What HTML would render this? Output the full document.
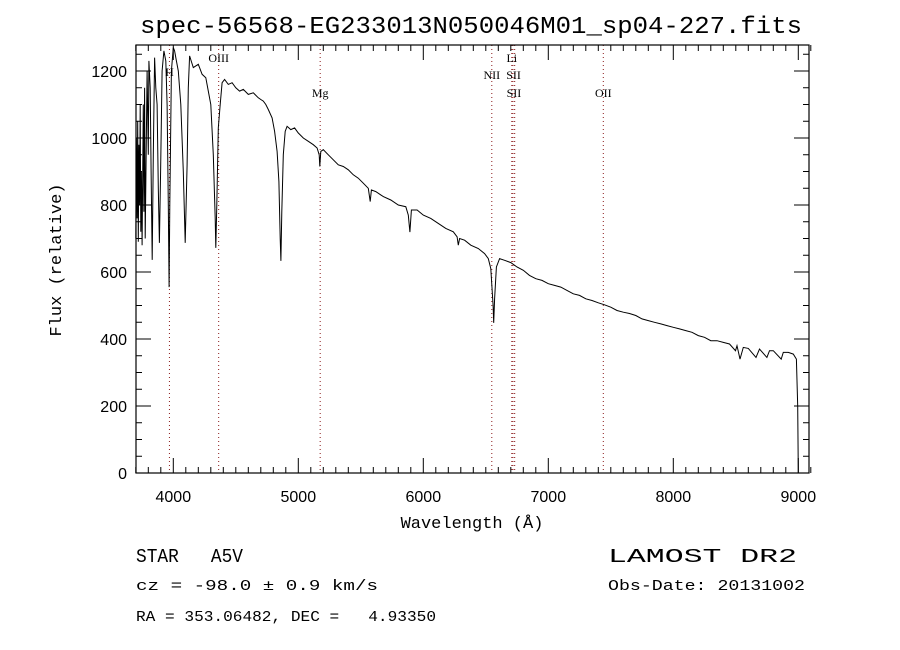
<!DOCTYPE html>
<html><head><meta charset="utf-8"><style>
html,body{margin:0;padding:0;background:#fff;}
svg{display:block;}
text{fill:#000;}
</style></head><body>
<svg id="chart" width="900" height="650" xmlns="http://www.w3.org/2000/svg">
<rect width="900" height="650" fill="#fff"/>
<text x="140" y="33" font-family="Liberation Mono, monospace" font-size="24" textLength="662" lengthAdjust="spacingAndGlyphs">spec-56568-EG233013N050046M01_sp04-227.fits</text>
<g id="lines"></g>
<g id="ticks"></g>
<path id="spec" fill="none" stroke="#000" stroke-width="1"/>
<rect x="136" y="45" width="673" height="428" fill="none" stroke="#000" stroke-width="1.2"/>
<text transform="translate(61,260) rotate(-90)" text-anchor="middle" font-family="Liberation Mono, monospace" font-size="17">Flux (relative)</text>
<text x="472" y="528" text-anchor="middle" font-family="Liberation Mono, monospace" font-size="17">Wavelength (Å)</text>
<text x="136" y="562" font-family="Liberation Mono, monospace" font-size="19" xml:space="preserve" textLength="107" lengthAdjust="spacingAndGlyphs">STAR   A5V</text>
<text x="608" y="562" font-family="Liberation Mono, monospace" font-size="19" textLength="189" lengthAdjust="spacingAndGlyphs">LAMOST DR2</text>
<text x="136" y="590" font-family="Liberation Mono, monospace" font-size="15" textLength="242" lengthAdjust="spacingAndGlyphs">cz = -98.0 ± 0.9 km/s</text>
<text x="608" y="590" font-family="Liberation Mono, monospace" font-size="15" textLength="197" lengthAdjust="spacingAndGlyphs">Obs-Date: 20131002</text>
<text x="136" y="621" font-family="Liberation Mono, monospace" font-size="15" xml:space="preserve" textLength="300" lengthAdjust="spacingAndGlyphs">RA = 353.06482, DEC =   4.93350</text>
</svg>
<script>
const wavelengths=[3700,3705,3710,3715,3720,3725,3730,3735,3740,3745,3750,3760,3765,3770,3775,3790,3800,3805,3815,3822,3831,3840,3850,3860,3870,3880,3889,3898,3910,3925,3940,3950,3960,3966,3972,3985,4000,4010,4025,4040,4060,4080,4095,4110,4120,4130,4160,4200,4230,4260,4280,4300,4320,4335,4340,4348,4360,4375,4390,4410,4440,4470,4500,4530,4560,4600,4640,4680,4700,4720,4740,4760,4790,4810,4830,4845,4855,4861,4868,4880,4895,4910,4940,4970,5000,5040,5080,5120,5150,5167,5172,5180,5200,5240,5280,5320,5360,5400,5440,5480,5520,5560,5575,5585,5620,5680,5740,5800,5860,5880,5893,5905,5950,6000,6060,6120,6180,6240,6270,6280,6290,6330,6380,6440,6490,6520,6540,6558,6563,6570,6585,6610,6650,6700,6750,6800,6850,6900,6950,7000,7050,7100,7150,7200,7250,7300,7350,7400,7450,7500,7550,7600,7650,7700,7750,7800,7850,7900,7950,8000,8050,8100,8150,8200,8250,8300,8350,8400,8450,8498,8510,8534,8560,8600,8662,8690,8749,8770,8800,8863,8880,8920,8960,8985,8995,9000];
const fluxes=[700,1000,760,1050,690,980,800,1100,720,900,680,1100,780,1150,700,1200,950,1230,1150,900,636,950,1240,1150,1100,850,687,900,1200,1260,1230,1100,800,555,800,1200,1270,1260,1230,1200,1100,900,687,920,1150,1245,1210,1220,1190,1180,1140,1100,950,760,672,800,1030,1100,1165,1175,1160,1165,1150,1140,1145,1130,1135,1120,1115,1110,1100,1085,1060,1020,960,870,700,633,780,950,1020,1035,1025,1030,1015,1000,990,980,970,950,915,960,965,950,935,920,915,905,890,880,865,850,810,845,840,825,815,800,795,770,719,785,785,770,760,745,730,720,705,680,700,695,680,670,655,640,610,500,448,520,615,640,635,628,615,605,590,580,575,565,560,555,545,535,530,520,515,508,502,495,485,480,476,470,460,455,450,445,440,435,430,425,420,410,405,395,395,390,385,365,380,340,375,372,345,370,345,365,365,340,360,360,355,340,200,0];
const xTicks=[4000,5000,6000,7000,8000,9000];
const yTicks=[0,200,400,600,800,1000,1200];
const lineWaves=[3969,4363,5175,6548,6708,6717,6731,7440];
const lineLabels=[["H",3969,76],["OIII",4363,62],["Mg",5175,97],["Li",6708,62],["NII",6548,79],["SII",6722,79],["SII",6725,97],["OII",7440,97]];
const L=136,R=809,T=45,B=473;
const X=w=>135.8+(w-3700)*0.125;
const Y=f=>473-f*0.335;
const NS="http://www.w3.org/2000/svg";
function mk(tag,attrs,parent){const e=document.createElementNS(NS,tag);for(const k in attrs)e.setAttribute(k,attrs[k]);parent.appendChild(e);return e;}
let d="";
for(let i=0;i<wavelengths.length;i++){d+=(i?"L":"M")+X(wavelengths[i]).toFixed(1)+","+Y(fluxes[i]).toFixed(1);}
document.getElementById("spec").setAttribute("d",d);
const tg=document.getElementById("ticks");
for(let w=3700;w<=9100;w+=100){const x=X(w);const major=w%1000===0;const len=major?15:6;
 mk("line",{x1:x,x2:x,y1:B,y2:B-len,stroke:"#000"},tg);mk("line",{x1:x,x2:x,y1:T,y2:T+len,stroke:"#000"},tg);}
for(let f=0;f<=1250;f+=50){const y=Y(f);const major=f%200===0;const len=major?15:6;
 mk("line",{x1:L,x2:L+len,y1:y,y2:y,stroke:"#000"},tg);mk("line",{x1:R,x2:R-len,y1:y,y2:y,stroke:"#000"},tg);}
xTicks.forEach(v=>{const t=mk("text",{x:X(v),y:502,"text-anchor":"middle","font-family":"Liberation Sans, sans-serif","font-size":"16"},tg);


t.textContent=v;});
yTicks.forEach(v=>{const t=mk("text",{x:127,y:Y(v)+6,"text-anchor":"end","font-family":"Liberation Sans, sans-serif","font-size":"16"},tg);


t.textContent=v;});
const lg=document.getElementById("lines");
lineWaves.forEach(w=>{const l=mk("line",{x1:X(w),x2:X(w),y1:T,y2:B,stroke:"#8b1a1a","stroke-width":"1","stroke-dasharray":"1,3"},lg);

});
lineLabels.forEach(([s,w,y])=>{const t=mk("text",{x:X(w),y:y,"text-anchor":"middle","font-family":"Liberation Serif, serif","font-size":"12"},lg);


t.textContent=s;});
</script>
</body></html>
